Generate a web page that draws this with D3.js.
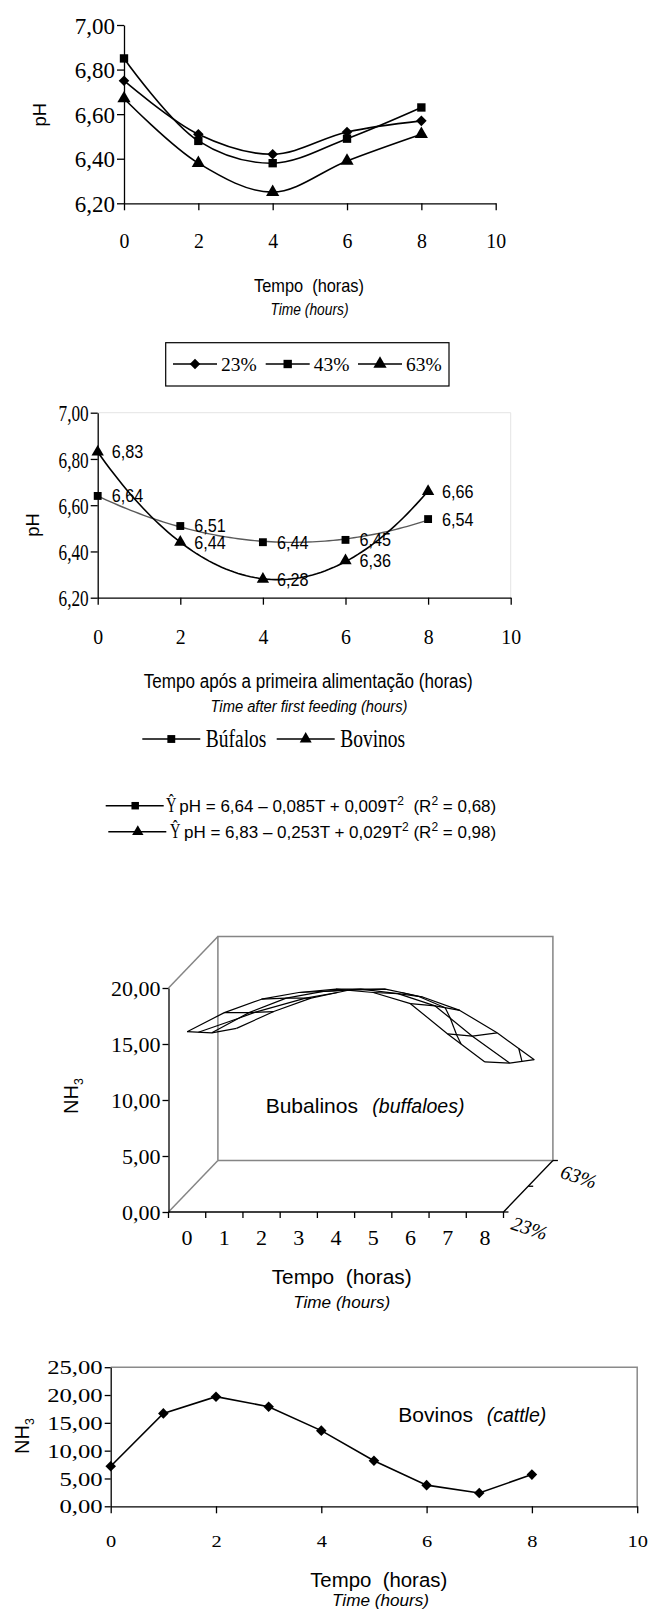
<!DOCTYPE html>
<html>
<head>
<meta charset="utf-8">
<script src="https://cdn.jsdelivr.net/npm/d3@7"></script>
<style>
body { margin: 0; background: #fff; }
svg { display: block; }
.serif { font-family: "Liberation Serif", "Times New Roman", serif; }
.sans { font-family: "Liberation Sans", Arial, sans-serif; }
</style>
</head>
<body>
<svg id="fig" width="657" height="1610"></svg>
<script>
// ---- data ----
var hours = [0, 2, 4, 6, 8];
var xTicks = [0, 2, 4, 6, 8, 10];
var phTicks = [6.2, 6.4, 6.6, 6.8, 7.0];

// pH by concentrate level
var levels = ["23%", "43%", "63%"];
var ph23 = [6.75, 6.51, 6.42, 6.52, 6.57];
var ph43 = [6.85, 6.48, 6.38, 6.49, 6.63];
var ph63 = [6.67, 6.38, 6.25, 6.39, 6.51];

// pH by animal, with fitted quadratics
var animals = ["Búfalos", "Bovinos"];
var phBuf = [6.64, 6.51, 6.44, 6.45, 6.54];
var phBov = [6.83, 6.44, 6.28, 6.36, 6.66];
var fitBuf = [6.64, -0.085, 0.009];
var fitBov = [6.83, -0.253, 0.029];
var r2 = [0.68, 0.98];

// NH3, buffaloes (3D surface), one row per concentrate level
var hours3d = [0, 1, 2, 3, 4, 5, 6, 7, 8];
var nh3Ticks3d = [0, 5, 10, 15, 20];
var nh3Buf23 = [16.1, 17.8, 19.0, 19.6, 19.9, 19.6, 18.6, 15.9, 13.4];
var nh3Buf43 = [13.7, 15.5, 16.8, 17.4, 17.6, 17.2, 16.1, 13.4, 11.0];
var nh3Buf63 = [11.8, 13.3, 14.5, 15.2, 15.3, 14.6, 13.4, 11.4, 9.0];

// NH3, cattle
var nh3Bov = [7.2, 16.7, 19.7, 17.9, 13.6, 8.2, 3.8, 2.4, 5.7];
var nh3Ticks = [0, 5, 10, 15, 20, 25];

var svg = d3.select("#fig");
var ptBR = d3.formatLocale({ decimal: ",", thousands: ".", grouping: [3], currency: ["", ""] });
var f2 = ptBR.format(".2f"), f3 = ptBR.format(".3f");

function squeeze(sel, k) {
    sel.each(function () {
        var w = this.getComputedTextLength();
        d3.select(this).attr("textLength", w * k).attr("lengthAdjust", "spacingAndGlyphs");
    });
}
function tidy(g) {
    g.attr("font-family", null).attr("font-size", null);
    g.selectAll(".domain, .tick line").attr("stroke", "#000").attr("stroke-width", 1.3);
}
function leftAxis(g, scale, ticks, size, k, tick) {
    g.call(d3.axisLeft(scale).tickValues(ticks).tickSize(tick || 7).tickPadding(2).tickSizeOuter(0).tickFormat(f2));
    tidy(g);
    var t = g.selectAll("text").attr("class", "serif").attr("font-size", size).attr("fill", "#000").attr("dy", "0.35em");
    if (k) squeeze(t, k);
}
function bottomAxis(g, scale, ticks, size, base, k) {
    g.call(d3.axisBottom(scale).tickValues(ticks).tickSize(7).tickSizeOuter(0).tickFormat(d3.format("d")));
    tidy(g);
    var t = g.selectAll("text").attr("class", "serif").attr("font-size", size).attr("fill", "#000").attr("y", base).attr("dy", null);
    if (k) squeeze(t, k);
}
function label(g, txt, x, y, size, opts) {
    opts = opts || {};
    var t = g.append("text").attr("class", opts.serif ? "serif" : "sans")
        .attr("x", x).attr("y", y).attr("font-size", size)
        .attr("text-anchor", opts.anchor || "middle")
        .attr("font-style", opts.italic ? "italic" : null)
        .text(txt);
    if (opts.w) t.attr("textLength", opts.w).attr("lengthAdjust", "spacingAndGlyphs");
    return t;
}
function yLabel(g, x, y, main, sub, size) {
    var t = g.append("text").attr("class", "sans").attr("font-size", size)
        .attr("text-anchor", "middle")
        .attr("transform", "translate(" + x + "," + y + ") rotate(-90)")
        .attr("dy", "0.35em");
    t.append("tspan").text(main);
    if (sub) t.append("tspan").attr("font-size", size * 0.62).attr("dy", 5).text(sub);
}
var symSize = { diamond: 56, square: 70, triangle: 76 };
function marker(g, type, x, y, size) {
    var s = size || symSize[type];
    var p = d3.symbol().type(type === "triangle" ? d3.symbolTriangle : d3.symbolSquare).size(s)();
    g.append("path").attr("d", p).attr("fill", "#000")
        .attr("transform", "translate(" + x + "," + y + ")" + (type === "diamond" ? " rotate(45)" : ""));
}

// ================= chart 1 : pH x level =================
var g1 = svg.append("g");
var x1 = d3.scaleLinear().domain([0, 10]).range([124, 495.7]);
var y1 = d3.scaleLinear().domain([6.2, 7.0]).range([203.3, 25]);
g1.append("g").attr("transform", "translate(0," + y1(6.2) + ")").call(bottomAxis, x1, xTicks, 22, 44.7, 0.9);
g1.append("g").attr("transform", "translate(" + x1(0) + ",0)").call(leftAxis, y1, phTicks, 23, 0);

var smooth = d3.line().x(function (d, i) { return x1(hours[i]); }).y(function (d) { return y1(d); }).curve(d3.curveCatmullRom);
var series1 = [{ v: ph23, m: "diamond" }, { v: ph43, m: "square" }, { v: ph63, m: "triangle" }];
series1.forEach(function (s) {
    g1.append("path").attr("d", smooth(s.v)).attr("fill", "none").attr("stroke", "#000").attr("stroke-width", 1.6);
    s.v.forEach(function (v, i) { marker(g1, s.m, x1(hours[i]), y1(v)); });
});
yLabel(g1, 40, 114.7, "pH", null, 18.5);
label(g1, "Tempo\u00a0\u00a0(horas)", 309, 291.7, 18.5, { w: 110 });
label(g1, "Time (hours)", 309.5, 315, 16, { italic: true, w: 78 });

// legend box
var lg1 = svg.append("g");
lg1.append("rect").attr("x", 165.7).attr("y", 342.7).attr("width", 283.3).attr("height", 43.3)
    .attr("fill", "none").attr("stroke", "#000").attr("stroke-width", 1.2);
var lgX = [173, 265.7, 358];
levels.forEach(function (name, i) {
    var lx = lgX[i];
    lg1.append("line").attr("x1", lx).attr("x2", lx + 44).attr("y1", 364).attr("y2", 364).attr("stroke", "#000").attr("stroke-width", 1.6);
    marker(lg1, series1[i].m, lx + 22, 364);
    label(lg1, name, lx + 48, 370.5, 19.5, { serif: true, anchor: "start" });
});

// ================= chart 2 : pH x animal =================
var g2 = svg.append("g");
var x2 = d3.scaleLinear().domain([0, 10]).range([97.7, 510.7]);
var y2 = d3.scaleLinear().domain([6.2, 7.0]).range([597.7, 412.7]);
g2.append("path").attr("d", "M" + x2(0) + "," + y2(7) + "H" + x2(10) + "V" + y2(6.2))
    .attr("fill", "none").attr("stroke", "#e4e4e4").attr("stroke-width", 1);
g2.append("g").attr("transform", "translate(0," + y2(6.2) + ")").call(bottomAxis, x2, xTicks, 22, 46.3, 0.9);
g2.append("g").attr("transform", "translate(" + x2(0) + ",0)").call(leftAxis, y2, phTicks, 23, 0.75);

var tSteps = d3.range(0, 8.001, 0.1);
function quad(c) { return function (t) { return c[0] + c[1] * t + c[2] * t * t; }; }
var trend = d3.line().x(function (t) { return x2(t); });
var series2 = [
    { v: phBuf, fit: fitBuf, m: "square", color: "#5a5a5a", w: 1.4, size: 62 },
    { v: phBov, fit: fitBov, m: "triangle", color: "#000", w: 1.6, size: 66 }
];
series2.forEach(function (s) {
    var q = quad(s.fit);
    g2.append("path").attr("d", trend.y(function (t) { return y2(q(t)); })(tSteps))
        .attr("fill", "none").attr("stroke", s.color).attr("stroke-width", s.w);
});
series2.forEach(function (s) {
    s.v.forEach(function (v, i) {
        marker(g2, s.m, x2(hours[i]), y2(v), s.size);
        var t = g2.append("text").attr("class", "sans").attr("font-size", 18.5)
            .attr("x", x2(hours[i]) + 14).attr("y", y2(v)).attr("dy", "0.35em").text(f2(v));
        squeeze(t, 0.875);
    });
});
yLabel(g2, 33, 525, "pH", null, 18.5);
label(g2, "Tempo após a primeira alimentação (horas)", 308.3, 688.3, 20, { w: 329 });
label(g2, "Time after first feeding (hours)", 309, 711.7, 16, { italic: true, w: 197 });

// legend row
var lg2 = svg.append("g");
var lg2X = [142.3, 276.7];
animals.forEach(function (name, i) {
    var lx = lg2X[i];
    lg2.append("line").attr("x1", lx).attr("x2", lx + 58).attr("y1", 739).attr("y2", 739).attr("stroke", "#000").attr("stroke-width", 1.6);
    marker(lg2, series2[i].m, lx + 29, 739, 62);
    var t = label(lg2, name, lx + 63.5, 747, 25, { serif: true, anchor: "start" });
    squeeze(t, 0.78);
});

// equations
var eqs = svg.append("g");
var eqRows = [{ y: 805.7, lx: 105.7, yx: 166, tx: 179.3, gap: "\u00a0\u00a0" }, { y: 831.7, lx: 108.3, yx: 170, tx: 184, gap: " " }];
[fitBuf, fitBov].forEach(function (c, i) {
    var r = eqRows[i];
    eqs.append("line").attr("x1", r.lx).attr("x2", r.lx + 58).attr("y1", r.y).attr("y2", r.y).attr("stroke", "#000").attr("stroke-width", 1.5);
    marker(eqs, series2[i].m, r.lx + 29.5, r.y, 56);
    label(eqs, "\u0176", r.yx, r.y + 6.5, 21, { serif: true, anchor: "start", w: 10.5 });
    var t = eqs.append("text").attr("class", "sans").attr("font-size", 17).attr("x", r.tx).attr("y", r.y + 6);
    t.append("tspan").text("pH = " + f2(c[0]) + " \u2013 " + f3(-c[1]) + "T + " + f3(c[2]) + "T");
    t.append("tspan").attr("font-size", 12).attr("dy", -7).text("2");
    t.append("tspan").attr("dy", 7).text(r.gap + "(R");
    t.append("tspan").attr("font-size", 12).attr("dy", -7).text("2");
    t.append("tspan").attr("dy", 7).text(" = " + f2(r2[i]) + ")");
});

// ================= chart 3 : NH3 buffaloes, 3D wireframe =================
var g3 = svg.append("g");
var surf = [nh3Buf23, nh3Buf43, nh3Buf63];
var xi = d3.scaleLinear().domain([-0.5, hours3d.length - 0.5]).range([168.5, 503.5]);
var yv = d3.scaleLinear().domain([0, 20]).range([1212, 988]);
var zd = d3.scaleLinear().domain([0, surf.length - 1]).range([0, 1]);
var DX = 49.4, DY = 51.5;
function proj(i, s, v) { var t = zd(s); return [xi(i) + t * DX, yv(v) - t * DY]; }

var iL = -0.5, iR = hours3d.length - 0.5, sB = surf.length - 1;
var wallGray = "#858585";
var wall = d3.line();
// back wall, left wall top edge, floor left edge
g3.append("path").attr("d", wall([proj(iL, sB, 0), proj(iL, sB, 20), proj(iR, sB, 20), proj(iR, sB, 0), proj(iL, sB, 0)]))
    .attr("fill", "none").attr("stroke", wallGray).attr("stroke-width", 1.5);
g3.append("path").attr("d", wall([proj(iL, 0, 20), proj(iL, sB, 20)])).attr("stroke", wallGray).attr("stroke-width", 1.5);
g3.append("path").attr("d", wall([proj(iL, 0, 0), proj(iL, sB, 0)])).attr("stroke", wallGray).attr("stroke-width", 1.5);
// floor front and right edges (axes)
g3.append("path").attr("d", wall([proj(iL, 0, 0), proj(iR, 0, 0), proj(iR, sB, 0)]))
    .attr("fill", "none").attr("stroke", "#000").attr("stroke-width", 1.3);
d3.range(hours3d.length + 1).forEach(function (k) {
    var p = proj(k - 0.5, 0, 0);
    g3.append("line").attr("x1", p[0]).attr("x2", p[0]).attr("y1", p[1]).attr("y2", p[1] + 6).attr("stroke", "#000").attr("stroke-width", 1.3);
});
surf.forEach(function (row, s) {
    var p = proj(iR, s, 0);
    g3.append("line").attr("x1", p[0]).attr("x2", p[0] + 5).attr("y1", p[1]).attr("y2", p[1]).attr("stroke", "#000").attr("stroke-width", 1.3);
});
g3.selectAll("text.cat").data(hours3d).enter().append("text").attr("class", "serif")
    .attr("x", function (d, i) { return xi(i); }).attr("y", 1245).attr("font-size", 22)
    .attr("text-anchor", "middle").text(function (d) { return d; });
g3.append("g").attr("transform", "translate(" + xi(iL) + ",0)").call(leftAxis, yv, nh3Ticks3d, 22, 0, 6);

[0, sB].forEach(function (s) {
    var p = proj(iR, s, 0);
    g3.append("text").attr("class", "serif").attr("font-size", 20).attr("font-style", "italic")
        .attr("text-anchor", "middle")
        .attr("transform", "translate(" + (p[0] + 26) + "," + (p[1] + 16) + ") rotate(18)")
        .attr("dy", "0.35em").text(levels[s]);
});

// wireframe: grid lines + contour lines at the major unit
var wire = g3.append("g").attr("fill", "none").attr("stroke", "#000").attr("stroke-width", 1.2).attr("stroke-linejoin", "round");
var ln = d3.line();
surf.forEach(function (row, s) {
    wire.append("path").attr("d", ln(row.map(function (v, i) { return proj(i, s, v); })));
});
hours3d.forEach(function (h, i) {
    wire.append("path").attr("d", ln(surf.map(function (row, s) { return proj(i, s, row[i]); })));
});
for (var s = 0; s < surf.length - 1; s++) {
    for (var i = 0; i < hours3d.length - 1; i++) {
        var cs = [[i, s, surf[s][i]], [i + 1, s, surf[s][i + 1]], [i + 1, s + 1, surf[s + 1][i + 1]], [i, s + 1, surf[s + 1][i]]];
        nh3Ticks3d.forEach(function (L) {
            var pts = [];
            for (var e = 0; e < 4; e++) {
                var a = cs[e], b = cs[(e + 1) % 4];
                if ((a[2] - L) * (b[2] - L) < 0) {
                    var t = (L - a[2]) / (b[2] - a[2]);
                    pts.push(proj(a[0] + t * (b[0] - a[0]), a[1] + t * (b[1] - a[1]), L));
                }
            }
            for (var k = 0; k + 1 < pts.length; k += 2) wire.append("path").attr("d", ln([pts[k], pts[k + 1]]));
        });
    }
}
yLabel(g3, 71, 1096, "NH", "3", 20);
label(g3, "Bubalinos", 265.7, 1113.3, 21, { anchor: "start" });
label(g3, "(buffaloes)", 372.3, 1113.3, 19.5, { anchor: "start", italic: true });
label(g3, "Tempo\u00a0\u00a0(horas)", 341.7, 1284.3, 20.5, { w: 140 });
label(g3, "Time (hours)", 341.7, 1308.3, 17, { italic: true, w: 97 });

// ================= chart 4 : NH3 cattle =================
var g4 = svg.append("g");
var x4 = d3.scaleLinear().domain([0, 10]).range([110.7, 637.2]);
var y4 = d3.scaleLinear().domain([0, 25]).range([1506.3, 1367.2]);
g4.append("path").attr("d", "M" + x4(0) + "," + y4(25) + "H" + x4(10) + "V" + y4(0))
    .attr("fill", "none").attr("stroke", "#8a8a8a").attr("stroke-width", 1.5);
g4.append("g").attr("transform", "translate(0," + y4(0) + ")").call(bottomAxis, x4, xTicks, 17, 40.4, 1.2);
g4.append("g").attr("transform", "translate(" + x4(0) + ",0)").call(leftAxis, y4, nh3Ticks, 19, 1.3, 6);
var line4 = d3.line().x(function (d, i) { return x4(hours3d[i]); }).y(function (d) { return y4(d); });
g4.append("path").attr("d", line4(nh3Bov)).attr("fill", "none").attr("stroke", "#000").attr("stroke-width", 1.6);
nh3Bov.forEach(function (v, i) { marker(g4, "diamond", x4(hours3d[i]), y4(v)); });
yLabel(g4, 22, 1436, "NH", "3", 20);
label(g4, "Bovinos", 398.3, 1421.7, 21, { anchor: "start" });
label(g4, "(cattle)", 486.7, 1421.7, 19.5, { anchor: "start", italic: true });
label(g4, "Tempo\u00a0\u00a0(horas)", 378.7, 1586.7, 20.5, { w: 137 });
label(g4, "Time (hours)", 380.5, 1605.5, 17, { italic: true, w: 97 });
</script>
</body>
</html>
